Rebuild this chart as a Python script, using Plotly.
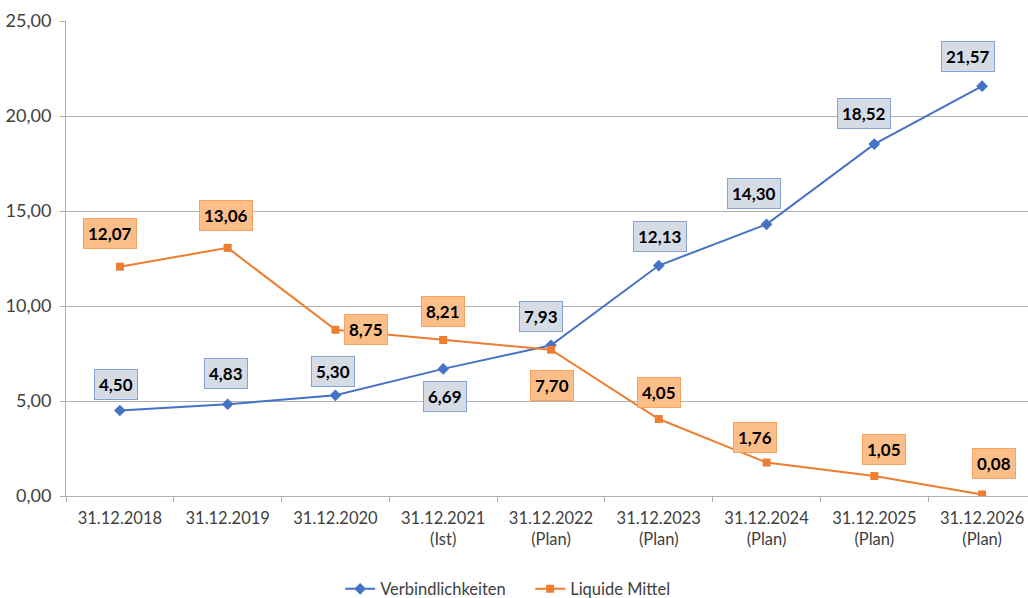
import plotly.graph_objects as go

categories = ["31.12.2018", "31.12.2019", "31.12.2020", "31.12.2021<br>(Ist)",
              "31.12.2022<br>(Plan)", "31.12.2023<br>(Plan)", "31.12.2024<br>(Plan)",
              "31.12.2025<br>(Plan)", "31.12.2026<br>(Plan)"]
verbindlichkeiten = [4.50, 4.83, 5.30, 6.69, 7.93, 12.13, 14.30, 18.52, 21.57]
liquide_mittel = [12.07, 13.06, 8.75, 8.21, 7.70, 4.05, 1.76, 1.05, 0.08]
y_ticks = [0, 5, 10, 15, 20, 25]

# label offsets in pixels (dx, dy; dy positive = up)
blue_offsets = [(-4, 26), (-2, 31), (-2, 24), (2, -28), (-10, 29), (1, 29), (-13, 31), (-10, 31), (-14, 30)]
orange_offsets = [(-10, 33), (-2, 32), (31, 0), (0, 29), (1, -36), (0, 27), (-12, 25), (10, 27), (12, 31)]

BLUE = "#4472C4"
ORANGE = "#ED7D31"
FONT = "Lato"

fig = go.Figure()
fig.add_trace(go.Scatter(
    x=categories, y=verbindlichkeiten, name="Verbindlichkeiten",
    mode="lines+markers", line=dict(color=BLUE, width=2),
    marker=dict(symbol="diamond", size=9, color=BLUE)))
fig.add_trace(go.Scatter(
    x=categories, y=liquide_mittel, name="Liquide Mittel",
    mode="lines+markers", line=dict(color=ORANGE, width=2),
    marker=dict(symbol="square", size=8, color=ORANGE)))

def fmt(v):
    return f"{v:.2f}".replace(".", ",")

annotations = []
for cat, v, (dx, dy) in zip(categories, verbindlichkeiten, blue_offsets):
    annotations.append(dict(
        x=cat, y=v, xref="x", yref="y", text=f"<b>{fmt(v)}</b>", showarrow=False,
        xshift=dx, yshift=dy, bgcolor="#D6DCE5", bordercolor="#86A3D8",
        borderwidth=1, borderpad=4, font=dict(family=FONT, size=17, color="#000000")))
for cat, v, (dx, dy) in zip(categories, liquide_mittel, orange_offsets):
    annotations.append(dict(
        x=cat, y=v, xref="x", yref="y", text=f"<b>{fmt(v)}</b>", showarrow=False,
        xshift=dx, yshift=dy, bgcolor="#FBBE88", bordercolor="#F7A25E",
        borderwidth=1, borderpad=4, font=dict(family=FONT, size=17, color="#000000")))

fig.update_layout(
    width=1028, height=598,
    margin=dict(l=66, r=0, t=21, b=102, autoexpand=False),
    paper_bgcolor="white", plot_bgcolor="white",
    separators=",.",
    font=dict(family=FONT, size=16, color="#404040"),
    showlegend=True,
    legend=dict(orientation="h", x=0.285, xanchor="left", y=-0.196, yanchor="middle",
                entrywidth=145, entrywidthmode="pixels",
                font=dict(family=FONT, size=16.5, color="#404040")),
    annotations=annotations,
)
fig.update_xaxes(
    type="category", range=[-0.5, 8.426], tickson="boundaries",
    ticks="outside", ticklen=5, tickcolor="#AFAFAF",
    showline=True, linecolor="#AFAFAF", linewidth=1,
    showgrid=False, automargin=False, ticklabelstandoff=7,
    tickfont=dict(family=FONT, size=16.5, color="#404040"))
fig.update_yaxes(
    range=[0, 25], tickvals=y_ticks, tickformat=".2f",
    ticks="outside", ticklen=5, tickcolor="#AFAFAF",
    showline=True, linecolor="#AFAFAF", linewidth=1,
    showgrid=True, gridcolor="#AFAFAF", gridwidth=1, zeroline=False,
    automargin=False, ticklabelstandoff=5,
    tickfont=dict(family=FONT, size=18, color="#404040"))

fig.write_html("out.html")
